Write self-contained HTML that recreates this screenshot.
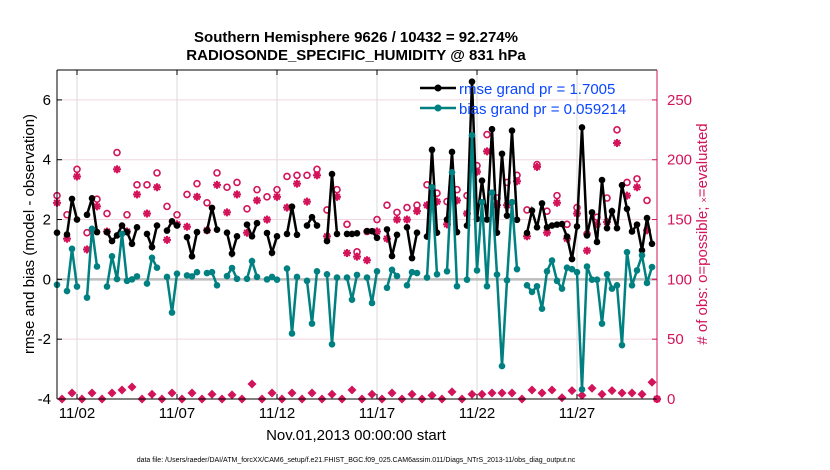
<!DOCTYPE html>
<html><head><meta charset="utf-8">
<style>
body{margin:0;background:#fff;}
svg{display:block;font-family:"Liberation Sans",sans-serif;}
</style></head>
<body>
<svg id="chart" width="830" height="470" viewBox="0 0 830 470" xmlns="http://www.w3.org/2000/svg">
  <text x="356" y="42" text-anchor="middle" font-size="15" font-weight="bold">Southern Hemisphere 9626 / 10432 = 92.274%</text>
  <text x="356" y="60" text-anchor="middle" font-size="15" font-weight="bold">RADIOSONDE_SPECIFIC_HUMIDITY @ 831 hPa</text>
  <g id="grid"></g>
  <g id="marks"></g>
  <g id="axes"></g>
  <text transform="translate(34,234) rotate(-90)" text-anchor="middle" font-size="15">rmse and bias (model - observation)</text>
  <text transform="translate(707,234) rotate(-90)" text-anchor="middle" font-size="15" fill="#d3135a"># of obs: o=possible; <tspan font-size="9">×</tspan>=evaluated</text>
  <text x="356" y="440" text-anchor="middle" font-size="15">Nov.01,2013 00:00:00 start</text>
  <text x="356" y="462" text-anchor="middle" font-size="7">data file: /Users/raeder/DAI/ATM_forcXX/CAM6_setup/f.e21.FHIST_BGC.f09_025.CAM6assim.011/Diags_NTrS_2013-11/obs_diag_output.nc</text>
  <g>
    <line x1="420" y1="88" x2="456" y2="88" stroke="#000" stroke-width="2.5"/>
    <circle cx="438" cy="88" r="3.5" fill="#000"/>
    <text x="459" y="94" font-size="15" fill="#0a46ff">rmse grand pr = 1.7005</text>
    <line x1="420" y1="108" x2="456" y2="108" stroke="#008080" stroke-width="2.5"/>
    <circle cx="438" cy="108" r="3.5" fill="#008080"/>
    <text x="459" y="114" font-size="15" fill="#0a46ff">bias grand pr = 0.059214</text>
  </g>
</svg>
<script>
const N = null;
const rmse = [1.56,N,1.5,2.69,2.0,N,2.16,2.71,1.58,N,1.58,1.28,1.47,1.8,1.58,1.19,1.74,N,1.52,1.08,1.8,N,1.63,1.94,1.8,N,1.41,0.77,1.58,N,1.63,
2.39,1.66,N,1.56,0.86,1.44,N,1.83,1.44,1.88,N,1.55,0.89,1.44,N,1.52,2.43,1.49,N,1.8,2.08,1.8,N,1.28,3.52,1.52,N,1.52,1.52,1.54,
N,1.61,1.61,1.39,N,1.67,0.78,1.49,N,1.74,0.71,1.56,N,1.43,4.33,1.56,N,2.0,4.26,1.58,N,1.8,6.61,2.02,3.3,2.0,5.02,1.56,4.2,2.13,
4.97,1.99,N,1.55,2.3,1.74,2.54,1.74,1.8,1.83,1.85,1.43,0.68,1.77,5.08,1.47,2.24,1.25,3.32,1.71,2.28,1.71,3.15,2.36,1.6,1.83,0.97,2.05,1.19,N];
const bias = [-0.18,N,-0.39,1.02,-0.24,N,-0.61,1.69,0.43,N,-0.24,0.77,0.01,1.52,-0.05,0,0.1,N,-0.14,0.72,0.39,N,0.08,-1.11,0.19,N,0.13,0.1,0.24,N,0.21,
0.24,-0.2,N,0.11,0.38,0.02,N,0.02,0.61,0.08,N,0,0.08,-0.01,N,0.36,-1.81,0.08,N,-0.05,-1.48,0.27,N,0.17,-2.17,0.06,N,0.06,-0.68,0.15,
N,0.06,-0.79,0.27,N,-0.28,0.32,0.11,N,-0.2,0.24,0.21,N,0.06,3.08,0.17,N,0.27,3.58,-0.23,N,-0.01,4.82,0.3,2.58,-0.23,2.9,0.16,-2.9,-0.03,
2.58,0.34,N,-0.2,-0.42,-0.23,-0.98,0.27,0.63,-0.05,-0.31,0.39,0.34,0.24,-3.68,0.43,-0.01,-0.01,-1.48,0.17,-0.31,-0.2,-2.2,0.91,-0.2,0.3,0.8,-0.12,0.41,N];
const possibleEven = [170,154,192,139,167,155,206,154,179,179,189,161,154,171,180,164,189,177,181,159,175,169,175,186,187,187,192,158,175,146,123,140,150,162,156,160,162,179,172,165,175,170,195,221,168,181,187,158,196,157,170,146,160,138,152,168,225,181,184,166,0];
const evaluatedEven = [164,134,186,125,161,140,192,140,171,155,177,133,146,144,169,141,179,156,171,139,166,150,169,160,180,165,187,136,169,122,119,116,140,134,150,150,157,162,165,146,166,155,190,207,162,162,182,136,194,139,164,134,155,124,146,148,214,170,177,141,0];
const obsOdd = [0,5,0,5,0,5,7.5,10,0,4,0,5,0,5,0,4,0,3.5,0,12.5,0,5,0,5,0,5,0,4,0,7.5,0,4,0,5,0,4,0,3,0,6,0,4,4,5,5,5,0,7.5,5,7.5,1,7,3,9,4,7,5,5,4,14];
const xTickLabels = ["11/02","11/07","11/12","11/17","11/22","11/27"];
const xTickDays = [1,6,11,16,21,26];
const yTicks = [-4,-2,0,2,4,6];
const y2Ticks = [0,50,100,150,200,250];

const X0=57, X1=657, Y0=399, Y1=70;
const xS = d => X0 + (d/30)*(X1-X0);
const yS = v => Y0 - (v+4)/11*(Y0-Y1);
const y2S = v => Y0 - v/275*(Y0-Y1);
const NS="http://www.w3.org/2000/svg";
function mk(tag, attrs, parent){const e=document.createElementNS(NS,tag);for(const k in attrs)e.setAttribute(k,attrs[k]);parent.appendChild(e);return e;}
const grid=document.getElementById('grid'), marks=document.getElementById('marks'), axes=document.getElementById('axes');
const CR="#d3135a";

xTickDays.forEach((d,i)=>{
  const g=mk('line',{x1:xS(d),x2:xS(d),y1:Y1,y2:Y0,stroke:"#d8d8d8","stroke-width":1},grid);
  
  
  const t=mk('text',{x:xS(d),y:418,"text-anchor":"middle","font-size":15},axes);
  t.textContent=xTickLabels[i];
  
  
  mk('line',{x1:xS(d),x2:xS(d),y1:Y0,y2:Y0-5,stroke:"#000"},axes);
  mk('line',{x1:xS(d),x2:xS(d),y1:Y1,y2:Y1+5,stroke:"#000"},axes);
});
y2Ticks.forEach(v=>{
  if(v>0 && v!==100){const g=mk('line',{x1:X0,x2:X1,y1:y2S(v),y2:y2S(v),stroke:"#f0d6e0","stroke-width":1},grid);
  
  }
  mk('line',{x1:X1,x2:X1-5,y1:y2S(v),y2:y2S(v),stroke:CR},axes);
  const t=mk('text',{x:X1+10,y:y2S(v)+5,"font-size":15,fill:CR},axes);
  t.textContent=v;
  
  
});
const zl=mk('line',{x1:X0,x2:X1,y1:yS(0),y2:yS(0),stroke:"#bdbdbd","stroke-width":2.5},grid);


yTicks.forEach(v=>{
  mk('line',{x1:X0,x2:X0+5,y1:yS(v),y2:yS(v),stroke:"#000"},axes);
  const t=mk('text',{x:X0-6,y:yS(v)+5,"text-anchor":"end","font-size":15},axes);
  t.textContent=v;
  
  
});
mk('line',{x1:X0,x2:X0,y1:Y1,y2:Y0,stroke:"#000"},axes);
mk('line',{x1:X0,x2:X1,y1:Y1,y2:Y1,stroke:"#000"},axes);
mk('line',{x1:X0,x2:X1,y1:Y0,y2:Y0,stroke:"#000"},axes);
mk('line',{x1:X1,x2:X1,y1:Y1,y2:Y0,stroke:CR},axes);

function star(cx,cy,r,parent){
  const g=mk('g',{stroke:CR,"stroke-width":2},parent);
  for(let a=0;a<4;a++){const t=a*Math.PI/4;mk('line',{x1:cx-r*Math.cos(t),y1:cy-r*Math.sin(t),x2:cx+r*Math.cos(t),y2:cy+r*Math.sin(t)},g);}
  return g;
}
possibleEven.forEach((p,k)=>{
  const d=k*0.5, x=xS(d);
  const c=mk('circle',{cx:x,cy:y2S(p),r:3,fill:"none",stroke:CR,"stroke-width":1.6},marks);
  
  
  const s=star(x,y2S(evaluatedEven[k]),4,marks);
  
  
});
obsOdd.forEach((v,k)=>{
  const d=k*0.5+0.25, x=xS(d), y=y2S(v);
  const p=mk('path',{d:`M${x},${y-4.5}L${x+4.5},${y}L${x},${y+4.5}L${x-4.5},${y}Z`,fill:CR},marks);
  
  
});
function series(arr,color,name){
  let seg=[];
  const flush=()=>{if(seg.length>1){const pl=mk('polyline',{points:seg.join(' '),fill:"none",stroke:color,"stroke-width":2.5},marks);
    
    } seg=[];};
  arr.forEach((v,i)=>{ if(v===null){flush();return;} seg.push(xS(i*0.25)+','+yS(v)); });
  flush();
  arr.forEach((v,i)=>{ if(v===null)return;
    const c=mk('circle',{cx:xS(i*0.25),cy:yS(v),r:3.3,fill:color},marks);
    
    
  });
}
series(rmse,"#000","rmse");
series(bias,"#008080","bias");
</script>
</body></html>
